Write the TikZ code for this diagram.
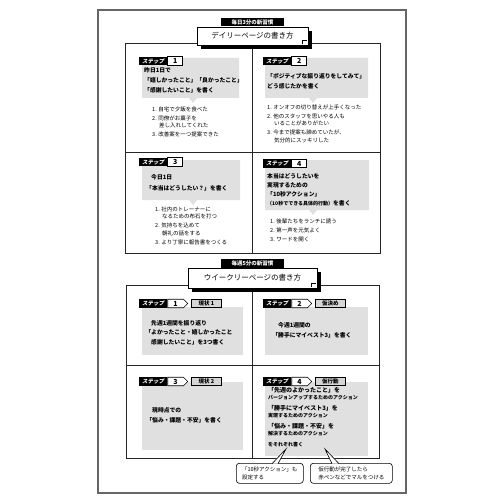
\documentclass[tikz,border=0pt]{standalone}
\usepackage{fontspec}
\setmainfont{Noto Sans CJK JP}
\newfontfamily\stepfont[FakeSlant=0.2]{Noto Sans CJK JP}
\usetikzlibrary{positioning,shapes.symbols,shadows}
\definecolor{panelgray}{gray}{0.88}
\definecolor{framegray}{gray}{0.4}
\definecolor{tabgray}{gray}{0.84}

\begin{document}
\begin{tikzpicture}[x=1pt,y=-1pt,
  every node/.style={inner sep=0pt},
  gridline/.style={line width=0.8pt,black!85},
  stepbox/.style={fill=black,text=white,font=\stepfont\bfseries\fontsize{5.5pt}{6pt}\selectfont,minimum width=28pt,minimum height=8.5pt,anchor=west},
  numbox/.style={draw,line width=0.6pt,fill=white,font=\bfseries\fontsize{7pt}{7pt}\selectfont,minimum width=15pt,minimum height=8.5pt},
  chevbox/.style={numbox,signal,signal to=east,minimum width=20pt},
  statebox/.style={draw,line width=0.6pt,fill=tabgray,font=\bfseries\fontsize{5.5pt}{6pt}\selectfont,minimum width=30pt,minimum height=8.5pt},
  labelbox/.style={fill=black,text=white,font=\bfseries\fontsize{5.5pt}{6pt}\selectfont,minimum width=63pt,minimum height=8.5pt},
  titlebox/.style={draw,line width=0.6pt,fill=white,font=\fontsize{7.5pt}{8pt}\selectfont,drop shadow={fill=black,opacity=1,shadow xshift=4pt,shadow yshift=-4pt}},
  txt/.style={align=left,anchor=north west,font=\bfseries\fontsize{5.8pt}{10pt}\selectfont},
  lst/.style={align=left,anchor=north west,font=\fontsize{5.5pt}{7.5pt}\selectfont},
  callout/.style={draw,line width=0.6pt,fill=white,rounded corners=3pt,align=left,anchor=north west,inner xsep=4pt,font=\fontsize{5.5pt}{8pt}\selectfont}]
\fill[white] (0,0) rectangle (500,500);
\useasboundingbox (0,0) rectangle (500,500);
\draw[framegray,line width=1.2pt] (98,10) rectangle (406,493);

\draw[gridline] (125,43) rectangle (380,253);
\draw[gridline] (252,43) -- (252,253);
\draw[gridline] (125,152) -- (380,152);
\node[titlebox,minimum width=111pt,minimum height=18pt] (dtitle) at (252.5,36) {デイリーページの書き方};
\node[labelbox,above=0pt of dtitle] (dlabel) {毎日3分の新習慣};
\draw[line width=0.5pt] ([xshift=-6pt,yshift=1pt]dtitle.south east) -- ([xshift=-6pt,yshift=5pt]dtitle.south east) -- ([xshift=-1pt,yshift=5pt]dtitle.south east);

\fill[panelgray] (142,58) -- (239,58) -- (239,98) -- (197,98) -- (193,103) -- (189,98) -- (142,98) -- cycle;
\fill[panelgray] (265,58) -- (368,58) -- (368,98) -- (317,98) -- (313,103) -- (309,98) -- (265,98) -- cycle;
\fill[panelgray] (142,160) -- (240,160) -- (240,200) -- (197,200) -- (193,205) -- (189,200) -- (142,200) -- cycle;
\fill[panelgray] (265,160) -- (369,160) -- (369,210) -- (317,210) -- (313,215) -- (309,210) -- (265,210) -- cycle;

\node[stepbox] (s1) at (139,61) {ステップ};
\node[numbox,right=0pt of s1] (n1) {1};
\node[stepbox] (s2) at (263,61) {ステップ};
\node[numbox,right=0pt of s2] (n2) {2};
\node[stepbox] (s3) at (139,162) {ステップ};
\node[numbox,right=0pt of s3] (n3) {3};
\node[stepbox] (s4) at (263,163.5) {ステップ};
\node[numbox,right=0pt of s4] (n4) {4};

\node[txt] (t1) at (144,67) {昨日1日で\\「嬉しかったこと」「良かったこと」\\「感謝したいこと」を書く};
\node[txt] (t2) at (267,73) {「ポジティブな振り返りをしてみて」\\どう感じたかを書く};
\node[txt] (t3) at (146,174) {\hspace*{5pt}今日1日\\[1pt]「本当はどうしたい？」を書く};
\node[txt,font=\bfseries\fontsize{5.8pt}{9pt}\selectfont] (t4) at (267,173) {本当はどうしたいを\\実現するための\\「10秒アクション」\\{\fontsize{5pt}{9pt}\selectfont（10秒でできる具体的行動）}を書く};

\node[lst] (l1) at (152,106.3) {1. 自宅で夕飯を食べた\\[1.5pt]2. 同僚がお菓子を\\\hspace*{7pt}差し入れしてくれた\\[1.5pt]3. 改善案を一つ提案できた};
\node[lst] (l2) at (267,104.3) {1. オンオフの切り替えが上手くなった\\[1.5pt]2. 他のスタッフを思いやる人も\\\hspace*{7pt}いることがありがたい\\[1.5pt]3. 今まで提案も諦めていたが、\\\hspace*{7pt}気分的にスッキリした};
\node[lst] (l3) at (155,206.3) {1. 社内のトレーナーに\\\hspace*{7pt}なるための布石を打つ\\[1.5pt]2. 気持ちを込めて\\\hspace*{7pt}朝礼の話をする\\[1.5pt]3. より丁寧に報告書をつくる};
\node[lst] (l4) at (270,218.3) {1. 後輩たちをランチに誘う\\[1.5pt]2. 第一声を元気よく\\[1.5pt]3. ワードを開く};

\draw[gridline] (126,285) rectangle (379,458);
\draw[gridline] (252,285) -- (252,458);
\draw[gridline] (126,365) -- (379,365);
\node[titlebox,minimum width=129pt,minimum height=20pt] (wtitle) at (252.5,278) {ウイークリーページの書き方};
\node[labelbox,above=0pt of wtitle] (wlabel) {毎週5分の新習慣};
\draw[line width=0.5pt] ([xshift=-6pt,yshift=1pt]wtitle.south east) -- ([xshift=-6pt,yshift=5pt]wtitle.south east) -- ([xshift=-1pt,yshift=5pt]wtitle.south east);

\fill[panelgray] (142,307) rectangle (243,355);
\fill[panelgray] (265,307) rectangle (368,355);
\fill[panelgray] (142,382) rectangle (243,450);
\fill[panelgray] (265,382) rectangle (368,456);

\node[stepbox] (w1) at (139,303.5) {ステップ};
\node[chevbox,right=0pt of w1] (v1) {1};
\node[statebox,right=3pt of v1] (m1) {現状 1};
\node[stepbox] (w2) at (263,303.5) {ステップ};
\node[chevbox,right=0pt of w2] (v2) {2};
\node[statebox,right=3pt of v2] (m2) {仮決め};
\node[stepbox] (w3) at (139,381.5) {ステップ};
\node[chevbox,right=0pt of w3] (v3) {3};
\node[statebox,right=3pt of v3] (m3) {現状 2};
\node[stepbox] (w4) at (263,381.5) {ステップ};
\node[chevbox,right=0pt of w4] (v4) {4};
\node[statebox,right=3pt of v4] (m4) {仮行動};

\node[txt,font=\bfseries\fontsize{5.8pt}{9.5pt}\selectfont] (u1) at (151,320) {先週1週間を振り返り\\\llap{「}よかったこと・嬉しかったこと\\感謝したいこと」を3つ書く};
\node[txt] (u2) at (278,322) {今週1週間の\\\llap{「}勝手にマイベスト3」を書く};
\node[txt] (u3) at (152,407) {現時点での\\\llap{「}悩み・課題・不安」を書く};
\node[txt,font=\bfseries\fontsize{5pt}{7.5pt}\selectfont] (u4) at (268,387) {{\fontsize{6pt}{7.5pt}\selectfont「先週のよかったこと」を}\\バージョンアップするためのアクション\\[3pt]{\fontsize{6pt}{7.5pt}\selectfont「勝手にマイベスト3」を}\\実現するためのアクション\\[3pt]{\fontsize{6pt}{7.5pt}\selectfont「悩み・課題・不安」を}\\解決するためのアクション\\[3pt]をそれぞれ書く};

\node[callout,minimum width=67pt,minimum height=20pt] (c1) at (236,463) {「10秒アクション」も\\設定する};
\node[callout,minimum width=82pt,minimum height=20pt] (c2) at (310,463) {仮行動が完了したら\\赤ペンなどでマルをつける};
\coordinate (p1) at (286,449);
\coordinate (p2) at (325,449);
\filldraw[line width=0.6pt,fill=white] ([xshift=36pt,yshift=-0.7pt]c1.north west) -- (p1) -- ([xshift=42pt,yshift=-0.7pt]c1.north west);
\filldraw[line width=0.6pt,fill=white] ([xshift=22pt,yshift=-0.7pt]c2.north west) -- (p2) -- ([xshift=29pt,yshift=-0.7pt]c2.north west);
\end{tikzpicture}
\end{document}
